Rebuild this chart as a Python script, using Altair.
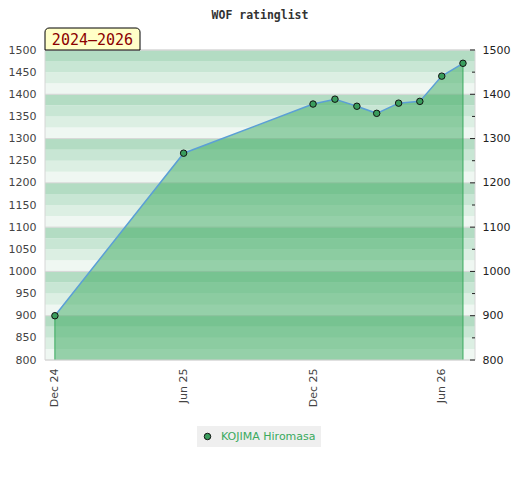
import altair as alt
import pandas as pd

# ---- data ----
player = "KOJIMA Hiromasa"
dates = ["2024-12-01T00:00:00", "2025-06-01T00:00:00", "2025-12-01T00:00:00",
         "2026-01-01T00:00:00", "2026-02-01T00:00:00", "2026-03-01T00:00:00",
         "2026-04-01T00:00:00", "2026-05-01T00:00:00", "2026-06-01T00:00:00",
         "2026-07-01T00:00:00"]
ratings = [900, 1267, 1378, 1389, 1373, 1357, 1380, 1384, 1441, 1470]
period_label = "2024–2026"
chart_title = "WOF ratinglist"
y_min, y_max = 800, 1500
x_domain = ["2024-11-17T00:00:00", "2026-07-18T00:00:00"]
x_ticks = [alt.DateTime(year=2024, month=12, date=1), alt.DateTime(year=2025, month=6, date=1),
           alt.DateTime(year=2025, month=12, date=1), alt.DateTime(year=2026, month=6, date=1)]
band_step = 25
band_colors = ["#b3dcc3", "#c8e6d4", "#dcefe3", "#eff7f2"]

W, H = 430, 310

df = pd.DataFrame({"date": dates, "rating": ratings, "player": player})
edges = df.iloc[[0, -1]]

bands = pd.DataFrame({"lo": list(range(y_min, y_max, band_step))})
bands["hi"] = bands["lo"] + band_step
bands["shade"] = ((y_max - bands["hi"]) // band_step) % 4

grid = pd.DataFrame({"v": list(range(y_min, y_max + 1, 100))})
minor = pd.DataFrame({"v": list(range(y_min + 50, y_max, 100))})

yscale = alt.Scale(domain=[y_min, y_max], zero=False, nice=False)
xscale = alt.Scale(domain=x_domain)
x_axis = alt.Axis(values=x_ticks, format="%b %y", labelAngle=270, labelAlign="right",
                  labelBaseline="middle", labelPadding=8, ticks=False, domain=False,
                  grid=False, title=None, labelFont="DejaVu Sans", labelFontSize=11,
                  labelColor="#444")

band_layer = alt.Chart(bands).mark_rect().encode(
    x=alt.value(0), x2=alt.value(W),
    y=alt.Y("lo:Q", scale=yscale,
            axis=alt.Axis(values=list(range(y_min, y_max + 1, 50)), orient="left",
                          format="d", ticks=False, domain=False, grid=False, title=None,
                          labelPadding=9, labelFont="DejaVu Sans", labelFontSize=11,
                          labelColor="#444")),
    y2="hi:Q",
    fill=alt.Fill("shade:O", scale=alt.Scale(domain=[0, 1, 2, 3], range=band_colors), legend=None),
)

grid_layer = alt.Chart(grid).mark_rule(color="#d6d6d6", strokeWidth=1).encode(
    x=alt.value(0), x2=alt.value(W),
    y=alt.Y("v:Q", scale=yscale, axis=None),
)

area_layer = alt.Chart(df).mark_area(color="#3caa5f", fillOpacity=0.5).encode(
    x=alt.X("date:T", scale=xscale, axis=x_axis),
    y=alt.Y("rating:Q", scale=yscale, axis=None),
    y2=alt.datum(y_min),
)

line_layer = alt.Chart(df).mark_line(color="#5b9fd6", strokeWidth=1.5).encode(
    x=alt.X("date:T", scale=xscale, axis=x_axis),
    y=alt.Y("rating:Q", scale=yscale, axis=None),
)

drop_layer = alt.Chart(edges).mark_rule(color="#3aaa5e", strokeWidth=1).encode(
    x=alt.X("date:T", scale=xscale, axis=x_axis),
    y=alt.Y("rating:Q", scale=yscale, axis=None),
    y2=alt.datum(y_min),
)

point_layer = alt.Chart(df).mark_circle(size=42, opacity=1, stroke="#111", strokeWidth=1).encode(
    x=alt.X("date:T", scale=xscale, axis=x_axis),
    y=alt.Y("rating:Q", scale=yscale, axis=None),
    color=alt.Color("player:N", scale=alt.Scale(range=["#3a9d5d"]),
                    legend=alt.Legend(title=None, orient="none", legendX=152, legendY=376,
                                      fillColor="#efefef", padding=5, symbolType="circle",
                                      symbolSize=42, symbolStrokeColor="#111",
                                      symbolStrokeWidth=1, labelColor="#3aaa5e",
                                      labelFont="DejaVu Sans", labelFontSize=11,
                                      labelOffset=8)),
)

major_ticks = alt.Chart(grid).mark_rule(color="#222", strokeWidth=1).encode(
    x=alt.value(W - 5), x2=alt.value(W),
    y=alt.Y("v:Q", scale=yscale,
            axis=alt.Axis(values=list(range(y_min, y_max + 1, 100)), orient="right",
                          format="d", ticks=False, domain=False, grid=False, title=None,
                          labelPadding=7, labelFont="DejaVu Sans", labelFontSize=11,
                          labelColor="#222")),
)

minor_ticks = alt.Chart(minor).mark_rule(color="#222", strokeWidth=1).encode(
    x=alt.value(W - 3), x2=alt.value(W),
    y=alt.Y("v:Q", scale=yscale, axis=None),
)

frame = alt.Chart(pd.DataFrame({"k": [0]})).mark_rect(
    fillOpacity=0, stroke="#d6d6d6", strokeWidth=1).encode(
    x=alt.value(0), x2=alt.value(W), y=alt.value(0), y2=alt.value(H))

title_layer = alt.Chart(pd.DataFrame({"t": [chart_title]})).mark_text(
    font="DejaVu Sans Mono", fontSize=11.5, fontWeight="bold", color="#333",
    align="center", baseline="alphabetic").encode(
    text="t:N", x=alt.value(W / 2), y=alt.value(-31))

label_box = alt.Chart(pd.DataFrame({"t": [period_label]})).mark_rect(
    fill="#ffffc8", stroke="#000", strokeWidth=1,
    cornerRadiusTopLeft=4, cornerRadiusTopRight=4).encode(
    x=alt.value(0), x2=alt.value(95), y=alt.value(-22), y2=alt.value(0))

label_text = alt.Chart(pd.DataFrame({"t": [period_label]})).mark_text(
    font="DejaVu Sans Mono", fontSize=15, color="#8b0000",
    align="center", baseline="middle").encode(
    text="t:N", x=alt.value(47.5), y=alt.value(-10.5))

chart = alt.layer(
    band_layer, grid_layer, area_layer, line_layer, drop_layer, frame,
    point_layer, major_ticks, minor_ticks, title_layer, label_box, label_text,
).resolve_axis(y="independent").properties(
    width=W, height=H,
    padding={"left": 37, "top": 42, "right": 37, "bottom": 110},
    autosize=alt.AutoSizeParams(type="none"),
).configure_view(stroke=None)

chart.save("out.html", embed_options={"renderer": "svg", "actions": False})
